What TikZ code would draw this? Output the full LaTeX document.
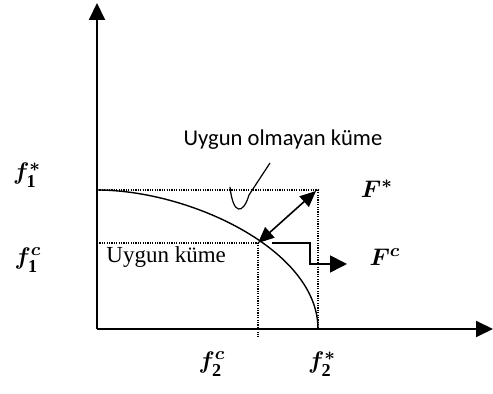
\documentclass[tikz,border=0pt]{standalone}
\usepackage{amsmath}
\usepackage{amssymb}
\usepackage{bm}
\usepackage{fontspec}
\setmainfont{Liberation Serif}
\newfontfamily\calibrifont{Carlito}
\usetikzlibrary{arrows, arrows.meta}

\begin{document}
\begin{tikzpicture}[x=0.5pt, y=-0.5pt,
  axisline/.style={line width=1pt, -{Triangle[length=8.5pt, width=8pt]}},
  guideline/.style={line width=0.7pt, dash pattern=on 0.6pt off 0.6pt},
  mathlabel/.style={font=\fontsize{13}{15}\selectfont, inner sep=0pt},
  setlabel/.style={inner sep=0pt}]
  \useasboundingbox (0,0) rectangle (493,394);

  % Coordinates
  \coordinate (O) at (97, 329);
  \coordinate (Ytop) at (97, 3);
  \coordinate (Xend) at (493, 329);
  \coordinate (A) at (97, 190);
  \coordinate (Fs) at (318, 190);
  \coordinate (Fsx) at (318, 329);
  \coordinate (B) at (97, 243);
  \coordinate (Fc) at (258, 243);
  \coordinate (Fcx) at (258, 337);
  \coordinate (S1) at (272, 243);
  \coordinate (S2) at (310, 243);
  \coordinate (S3) at (310, 264);
  \coordinate (S4) at (347, 264);
  \coordinate (H1) at (230, 187);
  \coordinate (H2) at (249, 195);
  \coordinate (H3) at (270, 163);

  % Labels
  \node[mathlabel] (f1s) at (27, 175) {$\bm{f}_{\mathbf{1}}^{\bm{*}}$};
  \node[mathlabel] (f1c) at (28, 260) {$\bm{f}_{\mathbf{1}}^{\bm{c}}$};
  \node[mathlabel] (f2c) at (212, 364) {$\bm{f}_{\mathbf{2}}^{\bm{c}}$};
  \node[mathlabel] (f2s) at (322, 364) {$\bm{f}_{\mathbf{2}}^{\bm{*}}$};
  \node[mathlabel] (FsLab) at (377, 189) {$\bm{F}^{\bm{*}}$};
  \node[mathlabel] (FcLab) at (385, 257) {$\bm{F}^{\bm{c}}$};
  \node[setlabel, font=\calibrifont\fontsize{11.3}{13}\selectfont] (infeas) at (283, 140) {Uygun olmayan küme};
  \node[setlabel, anchor=base west, font=\fontsize{11.5}{13}\selectfont] (feas) at (106, 263) {Uygun küme};

  % Drawing
  \draw[axisline] (O) -- (Ytop);
  \draw[axisline] (O) -- (Xend);
  \draw[guideline] (A) -- (Fs) -- (Fsx);
  \draw[guideline] (B) -- (Fc) -- (Fcx);
  \draw[line width=0.7pt] (A) .. controls (190, 190) and (318, 250) .. (Fsx);
  \draw[line width=0.6pt] (H1) .. controls (233, 215) and (243, 215) .. (H2) -- (H3);
  \draw[line width=0.8pt, {Triangle[length=8pt, width=7pt]}-{Triangle[length=8pt, width=7pt]}] (Fc) -- (316, 191);
  \draw[line width=0.8pt, -{Triangle[length=8.5pt, width=8.5pt]}] (S1) -- (S2) -- (S3) -- (S4);
\end{tikzpicture}
\end{document}
